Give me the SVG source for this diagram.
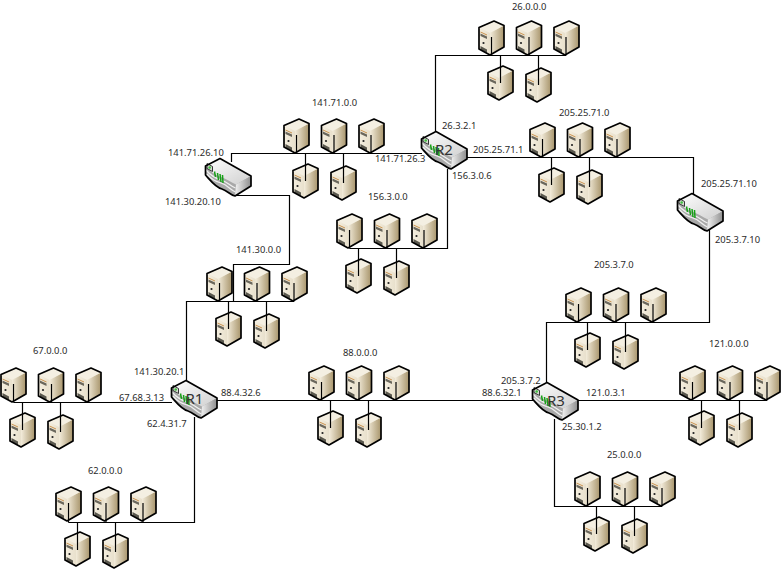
<svg xmlns="http://www.w3.org/2000/svg" width="781" height="569" viewBox="0 0 781 569">
<style>
text{font-family:"Noto Sans","Liberation Sans",sans-serif;font-size:9.4px;fill:#2b2b2b}
text.r{font-size:15px;fill:#333}
#links path{fill:none;stroke:#000;stroke-width:1.2}
</style>
<defs>
<linearGradient id="tan" x1="0" x2="1" y1="0" y2="0"><stop offset="0" stop-color="#f3ecdb"/><stop offset="1" stop-color="#a8956c"/></linearGradient>
<linearGradient id="ftan" x1="0" x2="1" y1="0" y2="0"><stop offset="0" stop-color="#f5efe0"/><stop offset="1" stop-color="#d8cdb3"/></linearGradient>
<linearGradient id="rtop" x1="0" x2="1" y1="0" y2="1"><stop offset="0" stop-color="#fff"/><stop offset="1" stop-color="#cfcfcf"/></linearGradient>
<linearGradient id="rside" x1="0" x2="1" y1="0" y2="0"><stop offset="0" stop-color="#f2f2f2"/><stop offset="1" stop-color="#8d8d8d"/></linearGradient>
<g id="srv">
<path d="M1 7.500 16 1 26 5.500V27L12 35 1 29Z" fill="url(#ftan)"/>
<path d="M12 13 26 5.500V27L12 35Z" fill="url(#tan)"/>
<path d="M1 7.500 16 1 26 5.500 12 13Z" fill="#f4efe2"/>
<path d="M2.500 11.500 9 14.500V15.500L2.500 12.500Z" fill="#c9924f"/>
<path d="M2.500 13.500 9 16.500V19L2.500 16Z" fill="#6a675c"/>
<circle cx="5.500" cy="23" r="1.100" fill="#222"/>
<path d="M2.500 26 9 29.500V33L2.500 29.500Z" fill="#5a584e"/>
<path d="M1 7.500 16 1 26 5.500V27L12 35 1 29Z" fill="none" stroke="#000" stroke-width="1.700" stroke-linejoin="round"/>
</g>
<g id="rtr">
<path d="M.5 8 15 .5 46 18V28L30 38C25 37 23 33 17 31 10 29 6 23 .5 17Z" fill="#a8a8a8"/>
<path d="M.5 8 15 .5 46 18 31 26.500C25 24 22 21 16 19 9 16 6 14 .5 8Z" fill="url(#rtop)"/>
<path d="M31 26.500 46 18V28L30 38Z" fill="url(#rside)"/>
<path d="M1 12C6 18 10 20 16 22 23 24 25 28 30.500 30M2 16C7 22 10 23 16 25 23 27 25 32 30.500 34" fill="none" stroke="#f0f0f0" stroke-width="1.300"/>
<path d="M2 5.500 7.500 8.500V13.500L2 10.500Z" fill="#d6dcd2" stroke="#222" stroke-width=".9"/>
<circle cx="4.700" cy="9.500" r="1.300" fill="#3fbf3f"/>
<path d="M9.500 13.500 10.500 19M12.500 15 13.500 22M15 16 16 24M17.500 17 18 25" stroke="#16a016" stroke-width="1.500" fill="none"/>
<path d="M.5 8 15 .5 46 18V28L30 38C25 37 23 33 17 31 10 29 6 23 .5 17Z" fill="none" stroke="#000" stroke-width="1.700" stroke-linejoin="round"/>
</g>
</defs>
<g id="net-67"><use href="#srv" x="0" y="367"/><use href="#srv" x="37.500" y="367"/><use href="#srv" x="75" y="367"/><use href="#srv" x="9" y="412"/><use href="#srv" x="47" y="414"/><text x="33" y="354">67.0.0.0</text></g>
<g id="net-62"><use href="#srv" x="55" y="486"/><use href="#srv" x="92.500" y="486"/><use href="#srv" x="130" y="486"/><use href="#srv" x="64" y="531"/><use href="#srv" x="102" y="533"/><text x="88" y="474">62.0.0.0</text></g>
<g id="net-88"><use href="#srv" x="308" y="365"/><use href="#srv" x="345.500" y="365"/><use href="#srv" x="383" y="365"/><use href="#srv" x="317" y="410"/><use href="#srv" x="355" y="412"/><text x="343" y="356">88.0.0.0</text></g>
<g id="net-141-30"><use href="#srv" x="206" y="266"/><use href="#srv" x="243.500" y="266"/><use href="#srv" x="281" y="266"/><use href="#srv" x="215" y="311"/><use href="#srv" x="253" y="313"/><text x="236" y="253">141.30.0.0</text></g>
<g id="net-141-71"><use href="#srv" x="283" y="118"/><use href="#srv" x="320.500" y="118"/><use href="#srv" x="358" y="118"/><use href="#srv" x="292" y="163"/><use href="#srv" x="330" y="165"/><text x="312" y="106">141.71.0.0</text></g>
<g id="net-156"><use href="#srv" x="336" y="213"/><use href="#srv" x="373.500" y="213"/><use href="#srv" x="411" y="213"/><use href="#srv" x="345" y="258"/><use href="#srv" x="383" y="260"/><text x="368" y="200">156.3.0.0</text></g>
<g id="net-26"><use href="#srv" x="478" y="20"/><use href="#srv" x="515.500" y="20"/><use href="#srv" x="553" y="20"/><use href="#srv" x="487" y="65"/><use href="#srv" x="525" y="67"/><text x="512" y="10">26.0.0.0</text></g>
<g id="net-205-25"><use href="#srv" x="529" y="122"/><use href="#srv" x="566.500" y="122"/><use href="#srv" x="604" y="122"/><use href="#srv" x="538" y="167"/><use href="#srv" x="576" y="169"/><text x="559" y="116">205.25.71.0</text></g>
<g id="net-205-3"><use href="#srv" x="565" y="287"/><use href="#srv" x="602.500" y="287"/><use href="#srv" x="640" y="287"/><use href="#srv" x="574" y="332"/><use href="#srv" x="612" y="334"/><text x="594" y="268">205.3.7.0</text></g>
<g id="net-121"><use href="#srv" x="679" y="365"/><use href="#srv" x="716.500" y="365"/><use href="#srv" x="754" y="365"/><use href="#srv" x="688" y="410"/><use href="#srv" x="726" y="412"/><text x="709" y="347">121.0.0.0</text></g>
<g id="net-25"><use href="#srv" x="574" y="471"/><use href="#srv" x="611.500" y="471"/><use href="#srv" x="649" y="471"/><use href="#srv" x="583" y="516"/><use href="#srv" x="621" y="518"/><text x="607" y="458">25.0.0.0</text></g>
<g id="links">
<path d="M13.500 402.500H172M13.500 384V402.500M51.500 384V402.500M88.500 384V402.500M22.500 402.500V430M60.500 402.500V432"/>
<path d="M68.500 522.500H194.500V417M68.500 503V522.500M106 503V522.500M143 503V522.500M77.500 522.500V550M115.500 522.500V552"/>
<path d="M217 400.500H533M321.500 382V400.500M359 382V400.500M396 382V400.500M330.500 400.500V428M368.500 400.500V430"/>
<path d="M186.500 382V301.500H294M219.500 283V301.500M257 283V301.500M294 283V301.500M228.500 301.500V329M266.500 301.500V331"/>
<path d="M233.500 301.500V264.500H289.500V195.500H233"/>
<path d="M231.500 162V153.500H422M296.500 135V153.500M334 135V153.500M371 135V153.500M305.500 153.500V181M343.500 153.500V183"/>
<path d="M447.500 169V248.500H349.500M349.500 230V248.500M387 230V248.500M424 230V248.500M358.500 248.500V276M396.500 248.500V278"/>
<path d="M435.500 132V55.500H566M491.500 37V55.500M529 37V55.500M566 37V55.500M500.500 55.500V83M538.500 55.500V85"/>
<path d="M467 157.500H693.500V194M542.500 139V157.500M580 139V157.500M617 139V157.500M551.500 157.500V185M589.500 157.500V187"/>
<path d="M709.500 228V322.500H546.500V384M578.500 304V322.500M616 304V322.500M653 304V322.500M587.500 322.500V350M625.500 322.500V352"/>
<path d="M578 400.500H767M692.500 382V400.500M730 382V400.500M767 382V400.500M701.500 400.500V428M739.500 400.500V430"/>
<path d="M554.500 419V506.500H662M587.500 488V506.500M625 488V506.500M662 488V506.500M596.500 506.500V534M634.500 506.500V536"/>
</g>
<g id="R1"><use href="#rtr" x="171" y="380"/><text class="r" x="185.500" y="404">R1</text></g>
<g id="R2"><use href="#rtr" x="421" y="131"/><text class="r" x="435" y="155">R2</text></g>
<g id="R3"><use href="#rtr" x="532" y="382"/><text class="r" x="547" y="406">R3</text></g>
<g id="R4"><use href="#rtr" x="205" y="158"/></g>
<g id="R5"><use href="#rtr" x="677" y="193"/></g>
<g id="labels">
<text x="168" y="156">141.71.26.10</text>
<text x="165" y="205">141.30.20.10</text>
<text x="442" y="129">26.3.2.1</text>
<text x="375" y="162">141.71.26.3</text>
<text x="473" y="153">205.25.71.1</text>
<text x="452" y="179">156.3.0.6</text>
<text x="701" y="187">205.25.71.10</text>
<text x="715" y="243">205.3.7.10</text>
<text x="134" y="375">141.30.20.1</text>
<text x="119" y="401">67.68.3.13</text>
<text x="147" y="427">62.4.31.7</text>
<text x="221" y="396">88.4.32.6</text>
<text x="482" y="396">88.6.32.1</text>
<text x="501" y="384">205.3.7.2</text>
<text x="586" y="396">121.0.3.1</text>
<text x="562" y="430">25.30.1.2</text>
</g>
</svg>
